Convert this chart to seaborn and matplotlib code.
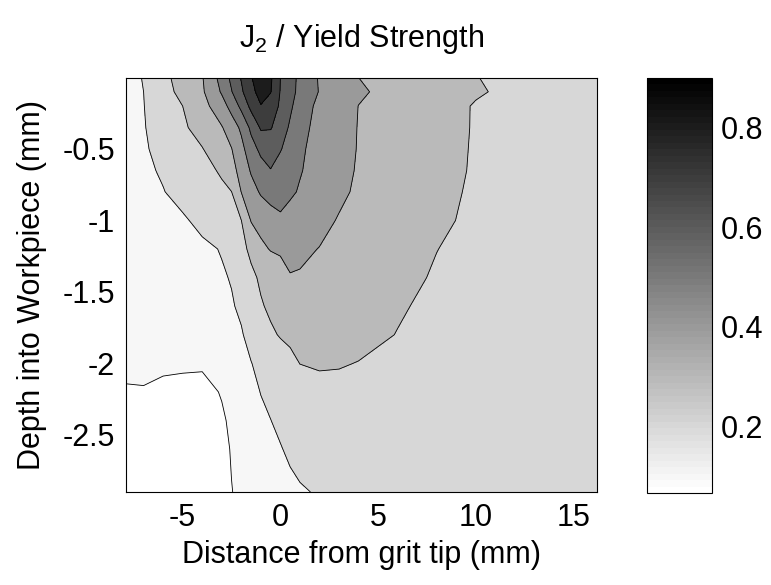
import numpy as np
import matplotlib
matplotlib.use("Agg")
import matplotlib.pyplot as plt
import seaborn as sns
from matplotlib.colors import Normalize
from matplotlib.cm import ScalarMappable
from matplotlib.ticker import FormatStrFormatter

# grid positions (mm) and J2 / yield strength
x_mm = [-7.9, -7, -6, -5, -4, -3, -2.5, -2, -1.5, -1, -0.5, 0, 0.5, 1, 2, 3, 4, 6, 8, 10, 12, 16.2]
depth_mm = [0, -0.1, -0.2, -0.35, -0.5, -0.65, -0.8, -1.0, -1.2, -1.4, -1.6, -1.8, -2.0, -2.2, -2.4, -2.6, -2.9]

j2_ratio = [
    [0.150, 0.207, 0.276, 0.337, 0.394, 0.536, 0.623, 0.707, 0.790, 0.900, 0.816, 0.700, 0.635, 0.578, 0.491, 0.445, 0.400, 0.367, 0.334, 0.302, 0.280, 0.240],
    [0.148, 0.200, 0.265, 0.327, 0.387, 0.510, 0.595, 0.685, 0.768, 0.840, 0.805, 0.695, 0.630, 0.576, 0.495, 0.453, 0.411, 0.372, 0.339, 0.307, 0.285, 0.240],
    [0.146, 0.198, 0.249, 0.300, 0.365, 0.460, 0.533, 0.625, 0.726, 0.795, 0.749, 0.687, 0.617, 0.551, 0.476, 0.437, 0.399, 0.364, 0.329, 0.295, 0.275, 0.240],
    [0.144, 0.195, 0.239, 0.285, 0.338, 0.394, 0.450, 0.518, 0.622, 0.712, 0.707, 0.652, 0.586, 0.529, 0.471, 0.433, 0.397, 0.362, 0.327, 0.295, 0.272, 0.240],
    [0.140, 0.190, 0.226, 0.261, 0.296, 0.362, 0.397, 0.471, 0.559, 0.624, 0.637, 0.606, 0.562, 0.514, 0.467, 0.429, 0.396, 0.360, 0.325, 0.294, 0.270, 0.240],
    [0.138, 0.185, 0.209, 0.241, 0.272, 0.311, 0.367, 0.433, 0.510, 0.559, 0.597, 0.563, 0.535, 0.506, 0.464, 0.424, 0.393, 0.358, 0.323, 0.293, 0.268, 0.240],
    [0.135, 0.175, 0.197, 0.226, 0.255, 0.284, 0.299, 0.402, 0.462, 0.511, 0.539, 0.547, 0.514, 0.492, 0.453, 0.414, 0.389, 0.354, 0.319, 0.290, 0.266, 0.240],
    [0.130, 0.155, 0.180, 0.190, 0.220, 0.260, 0.279, 0.299, 0.405, 0.430, 0.455, 0.480, 0.465, 0.450, 0.421, 0.395, 0.379, 0.345, 0.312, 0.287, 0.265, 0.240],
    [0.125, 0.140, 0.155, 0.170, 0.185, 0.204, 0.239, 0.275, 0.319, 0.381, 0.405, 0.412, 0.420, 0.414, 0.398, 0.382, 0.366, 0.333, 0.301, 0.280, 0.262, 0.240],
    [0.120, 0.130, 0.140, 0.155, 0.170, 0.193, 0.204, 0.242, 0.281, 0.313, 0.338, 0.364, 0.396, 0.394, 0.375, 0.361, 0.347, 0.320, 0.293, 0.275, 0.260, 0.240],
    [0.115, 0.122, 0.130, 0.140, 0.155, 0.175, 0.194, 0.212, 0.252, 0.292, 0.315, 0.333, 0.351, 0.370, 0.357, 0.345, 0.333, 0.307, 0.285, 0.270, 0.255, 0.240],
    [0.110, 0.115, 0.120, 0.128, 0.140, 0.158, 0.175, 0.194, 0.223, 0.255, 0.287, 0.306, 0.316, 0.325, 0.345, 0.333, 0.321, 0.298, 0.280, 0.265, 0.252, 0.238],
    [0.105, 0.107, 0.108, 0.110, 0.112, 0.130, 0.150, 0.175, 0.198, 0.219, 0.239, 0.259, 0.280, 0.301, 0.309, 0.305, 0.298, 0.285, 0.270, 0.258, 0.248, 0.235],
    [0.098, 0.098, 0.090, 0.081, 0.071, 0.106, 0.130, 0.155, 0.180, 0.202, 0.218, 0.235, 0.250, 0.262, 0.275, 0.280, 0.278, 0.272, 0.262, 0.252, 0.244, 0.233],
    [0.076, 0.071, 0.066, 0.066, 0.068, 0.088, 0.115, 0.140, 0.163, 0.185, 0.199, 0.215, 0.227, 0.238, 0.253, 0.260, 0.262, 0.260, 0.253, 0.246, 0.240, 0.230],
    [0.071, 0.068, 0.066, 0.066, 0.068, 0.078, 0.105, 0.125, 0.145, 0.162, 0.180, 0.196, 0.212, 0.224, 0.240, 0.248, 0.252, 0.252, 0.248, 0.243, 0.238, 0.228],
    [0.068, 0.066, 0.066, 0.066, 0.068, 0.076, 0.098, 0.115, 0.130, 0.145, 0.158, 0.172, 0.183, 0.193, 0.206, 0.220, 0.230, 0.240, 0.240, 0.238, 0.235, 0.226],
]

contour_levels = [0.1, 0.2, 0.3, 0.4, 0.5, 0.6, 0.7, 0.8]
cbar_ticks = [0.2, 0.4, 0.6, 0.8]
x_ticks = [-5, 0, 5, 10, 15]
y_ticks = [-0.5, -1, -1.5, -2, -2.5]

sns.set_style("white")
plt.rcParams['font.family'] = ['Liberation Sans', 'DejaVu Sans']
plt.rcParams['axes.unicode_minus'] = False
plt.rcParams['mathtext.fontset'] = 'custom'
plt.rcParams['mathtext.rm'] = 'Liberation Sans'
plt.rcParams['mathtext.it'] = 'Liberation Sans'
plt.rcParams['text.color'] = 'k'
plt.rcParams['axes.labelcolor'] = 'k'

fs = 22
Z = np.array(j2_ratio)
zmin, zmax = Z.min(), Z.max()
cmap = plt.get_cmap('gray_r', 64)
norm = Normalize(zmin, zmax)

# matlab-style fill: each band takes the colour of its lower level
bounds = [zmin] + contour_levels + [zmax]
band_colors = [cmap(norm(v)) for v in bounds[:-1]]

fig = plt.figure(figsize=(7.71, 5.85), dpi=100)
ax = fig.add_axes([126 / 771, 1 - 492 / 585, 471 / 771, 414.5 / 585])
ax.contourf(x_mm, depth_mm, Z, levels=bounds, colors=band_colors)
ax.contour(x_mm, depth_mm, Z, levels=contour_levels, colors='k', linewidths=0.6)

ax.set_xlim(-7.9, 16.2)
ax.set_ylim(-2.9, 0)
ax.set_xticks(x_ticks)
ax.set_yticks(y_ticks)
ax.xaxis.set_major_formatter(FormatStrFormatter('%g'))
ax.yaxis.set_major_formatter(FormatStrFormatter('%g'))
ax.tick_params(direction='in', top=True, right=True, length=4, width=0.8,
               labelsize=fs, pad=8, colors='k')
for s in ax.spines.values():
    s.set_color('k')
    s.set_linewidth(0.8)

ax.set_xlabel('Distance from grit tip (mm)', fontsize=fs, labelpad=5)
ax.set_ylabel('Depth into Workpiece (mm)', fontsize=fs, labelpad=11)
ax.set_title(r'J$_2$ / Yield Strength', fontsize=fs, pad=22)

cax = fig.add_axes([647 / 771, 1 - 493 / 585, 65 / 771, 415.3 / 585])
cb = fig.colorbar(ScalarMappable(norm=norm, cmap=cmap), cax=cax, ticks=cbar_ticks)
cax.tick_params(direction='in', left=True, right=True, labelleft=False,
                length=4, width=0.8, labelsize=fs, pad=6, colors='k')
cb.outline.set_edgecolor('k')
cb.outline.set_linewidth(0.8)

fig.savefig('out.png', dpi=100)
